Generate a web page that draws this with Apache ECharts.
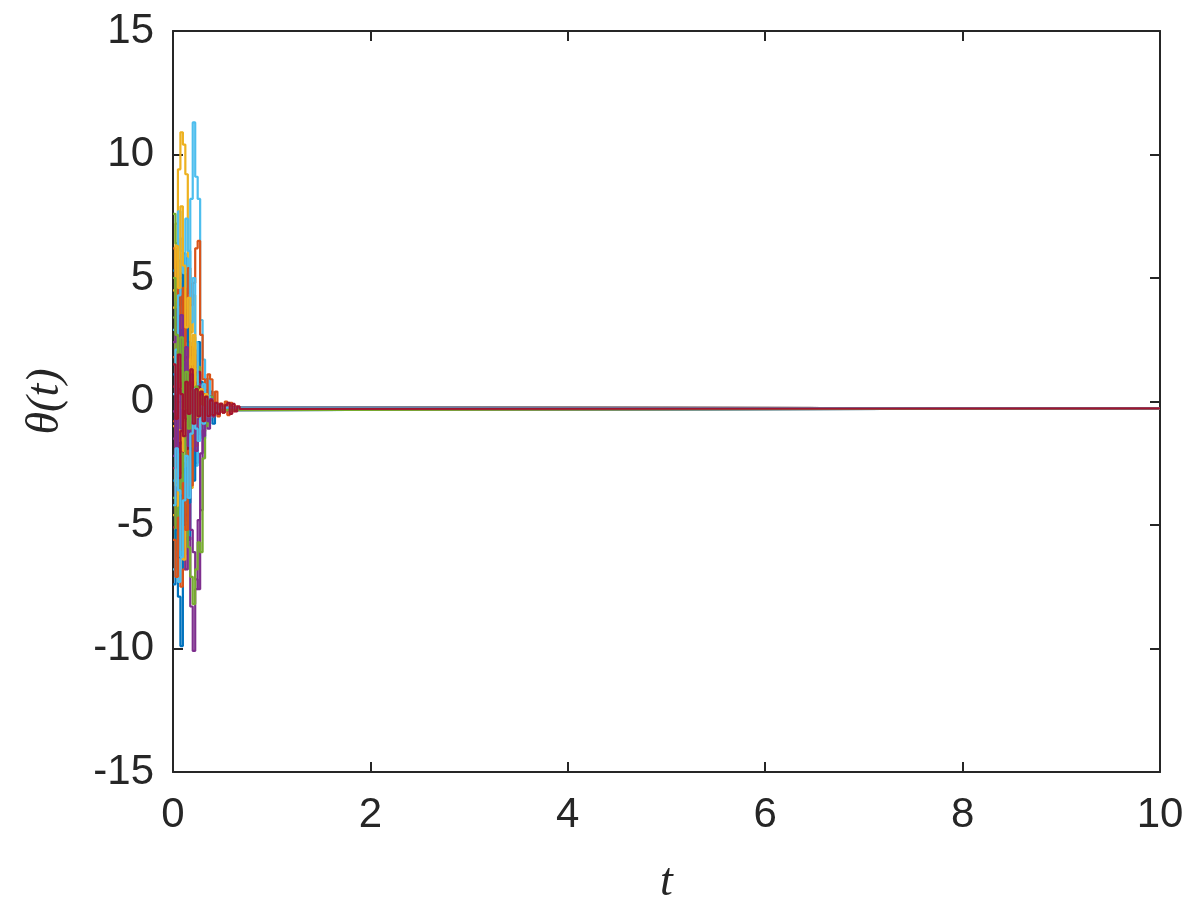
<!DOCTYPE html>
<html>
<head>
<meta charset="utf-8">
<title>theta(t)</title>
<script src="https://cdn.jsdelivr.net/npm/echarts@6/dist/echarts.min.js"></script>
<style>
  html, body { margin: 0; padding: 0; background: #ffffff; }
  #chart { width: 1203px; height: 902px; }
</style>
</head>
<body>
<div id="chart"></div>
<script>
// Sample times of the transient (step 0.025 from 0 to 0.725)
const T = [0, 0.025, 0.05, 0.075, 0.1, 0.125, 0.15, 0.175, 0.2, 0.225, 0.25, 0.275,
  0.3, 0.325, 0.35, 0.375, 0.4, 0.425, 0.45, 0.475, 0.5, 0.525, 0.55, 0.575,
  0.6, 0.625, 0.65, 0.675, 0.7, 0.725];
const T_END = 10;
// Common value every trajectory settles to
const THETA_END = -0.28;

// Trajectories theta_i(t) at the sample times above; from the next sample on each equals THETA_END
const theta01 = [-3.2, -5.4, -7.9, -9.9, -6.2, -4.1, -5.6, -2.3, 1.2, -0.8, 2.4, 0.6, -1.5, 0.9, -0.6, 0.4, -0.9, -0.1, -0.5, -0.2, -0.35];
const theta02 = [1.8, -2.6, -5.1, -7.5, -6.8, -3.4, -0.9, 2.2, 0.4, -1.8, 1.1, -0.7, 0.3, -0.8, 0.2, -0.5, -0.1, -0.4, -0.25];
const theta03 = [4.5, 7.2, 9.4, 10.9, 10.4, 9.2, 5.1, 2.8, 4.3, 1.6, -0.9, 0.8, -1.2, 0.5, -0.7, 0.1, -0.5, -0.2, -0.3];
const theta04 = [-1.5, -3.8, -2.4, -5.9, -4.2, -6.8, -5.5, -8.3, -10.1, -7.6, -4.8, -2.1, -0.6, 0.7, -1.1, 0.3, -0.6, -0.1, -0.4, -0.25];
const theta05 = [7.6, 6.4, 3.9, 5.2, 2.1, 0.4, 3.3, 1.0, -1.9, -0.3, 1.4, -0.5, 0.6, -0.9, 0.1, -0.4, -0.2, -0.32];
const theta06 = [2.9, 5.4, 7.7, 6.1, 3.6, 5.8, 4.4, 8.2, 11.3, 9.1, 8.2, 3.3, 1.7, -0.4, 0.9, -0.6, 0.3, -0.5, -0.1, -0.35];
const theta07 = [0.6, 2.8, 1.3, -1.7, 0.9, 3.6, 2.4, -0.8, 1.9, 0.2, -1.3, 0.5, -0.6, 0.2, -0.5, -0.1, -0.4, -0.3];
const theta08 = [5.3, 3.1, 4.8, 2.2, 6.0, 3.7, 0.9, -1.4, 1.2, -2.5, -0.7, 0.8, -0.4, 0.3, -0.6, -0.1, -0.3];
const theta09 = [-0.8, 1.5, 3.2, 2.0, 4.6, 3.1, 5.4, 3.9, 4.8, 6.2, 6.5, 2.7, 0.9, -0.5, 1.1, 0.9, -0.3, 0.4, -0.6, -0.1, -0.3];
const theta10 = [-4.6, -2.1, -5.3, -3.0, -6.4, -4.9, -1.8, -3.5, -0.6, 1.3, -0.9, 0.4, -0.7, 0.2, -0.5, -0.2, -0.3];
const theta11 = [-2.2, 0.6, -1.9, -3.7, -2.5, -4.6, -3.1, -5.2, -6.1, -7.2, -7.6, -4.4, -1.2, 0.3, -0.8, 0.2, -0.5, -0.25];
const theta12 = [3.4, 1.2, -0.9, -2.8, -4.5, -3.2, -5.9, -7.1, -8.2, -6.8, -5.7, -6.1, -2.3, -1.0, -0.4, 0.2, -0.6, -0.1, -0.4, -0.25];
const theta13 = [-6.8, -4.5, -7.3, -5.0, -2.7, -4.1, -1.5, 0.8, -0.9, -2.6, 0.5, -1.1, 0.4, -0.6, 0.1, -0.4, -0.2, -0.3];
const theta14 = [-5.1, -3.3, -1.2, -2.9, -0.4, 1.8, -1.6, 0.3, 2.1, -0.7, 1.2, -0.9, 0.5, -0.5, 0.1, -0.45, -0.2, -0.3];
const theta15 = [1.1, -1.0, 0.8, 2.9, 1.4, -0.8, -2.9, -1.7, 0.6, -1.2, 0.3, -0.6, 0.2, -0.4, -0.2, -0.3];
const theta16 = [6.2, 4.1, 5.7, 3.0, 4.4, 2.1, 0.2, 1.8, -0.4, 0.9, -1.3, 0.2, -0.7, 0.1, -0.5, -0.15, -0.35, -0.05, -0.5, -0.1, -0.45, 0.0, -0.55, -0.05, -0.4, -0.2, -0.3];
const theta17 = [-1.0, -3.4, -1.6, 0.5, -2.0, -0.6, 1.7, 0.4, 2.6, 1.0, -0.8, 0.6, -0.5, 0.2, -0.4, -0.2, -0.3];
const theta18 = [2.4, 4.0, 1.8, 3.5, 0.7, 2.2, -0.5, 1.1, -1.6, -0.4, 0.7, -0.3, 0.3, -0.5, -0.1, -0.35];
const theta19 = [-3.9, -6.0, -4.3, -2.1, -3.6, -1.4, 0.6, -1.9, -0.2, 1.1, -0.6, 0.4, -0.6, 0.1, -0.4, -0.25];
const theta20 = [0.3, 2.1, 4.3, 6.6, 5.2, 7.4, 6.1, 3.2, 5.0, 2.4, 0.6, -0.9, 0.7, -0.5, 0.2, -0.4, -0.2, -0.3];
const theta21 = [-2.7, -0.6, -3.1, -1.2, 0.9, -0.7, -2.4, -0.9, 0.8, -0.5, 0.6, -0.4, 0.1, -0.5, -0.2, -0.3];
const theta22 = [-7.4, -5.2, -6.3, -3.8, -5.0, -2.7, -4.1, -1.9, -3.2, -0.8, 0.4, -0.7, 0.2, -0.5, -0.1, -0.3];
const theta23 = [-5.6, -7.1, -4.7, -6.0, -3.3, -5.2, -2.0, -3.4, -0.6, -1.8, 0.2, -0.9, 0.3, -0.6, -0.05, -0.4, -0.25];
const theta24 = [3.8, 6.3, 4.6, 7.9, 5.5, 3.0, 4.2, 1.5, 2.7, 0.4, -1.0, 0.5, -0.8, 0.3, -0.6, 0.1, -0.5, -0.1, -0.45, -0.15, -0.4, -0.2, -0.32];
const theta25 = [-0.4, -2.3, 0.5, -1.1, 1.6, -0.2, -1.8, 0.1, -0.9, -2.0, -0.7, 0.3, -1.4, -0.2, -0.8, 0.1, -0.6, -0.1, -0.5, -0.2, -0.35, -0.25];
const theta26 = [5.0, 2.7, 0.8, 2.6, -0.3, 1.2, -1.1, 0.4, -0.8, 0.6, -0.5, 0.2, -0.6, 0.0, -0.45, -0.15, -0.35];
const theta27 = [-4.2, -1.9, -3.6, -6.3, -4.0, -2.2, -3.9, -1.3, 0.5, -1.1, -1.6, -0.2, -0.9, 0.1, -0.6, -0.05, -0.5, -0.15, -0.4, -0.25];
const theta28 = [1.5, -0.7, 1.9, 0.3, -1.4, 0.8, -0.5, 1.3, -0.9, 0.5, -0.6, 0.4, -0.8, 0.2, -0.6, 0.05, -0.55, -0.05, -0.5, -0.1, -0.45, -0.15, -0.05, -0.5, -0.1, -0.4, -0.2, -0.3];

const trajectories = [theta01, theta02, theta03, theta04, theta05, theta06, theta07,
  theta08, theta09, theta10, theta11, theta12, theta13, theta14,
  theta15, theta16, theta17, theta18, theta19, theta20, theta21,
  theta22, theta23, theta24, theta25, theta26, theta27, theta28];

// Axis ticks
const xTicks = [0, 2, 4, 6, 8, 10];
const yTicks = [-15, -10, -5, 0, 5, 10, 15];

// Default line colour order
const palette = ['#0072BD', '#D95319', '#EDB120', '#7E2F8E', '#77AC30', '#4DBEEE', '#A2142F'];

const AXIS_COLOR = '#262626';
const LABEL_FONT = '"Liberation Sans", Arial, Helvetica, sans-serif';
const NAME_FONT = '"Liberation Serif", "DejaVu Serif", "Times New Roman", serif';

function buildSeries() {
  return trajectories.map((vals, i) => {
    const pts = vals.map((v, k) => [T[k], v]);
    // settled from the next sample time to the end of the run
    pts.push([T[vals.length], THETA_END]);
    pts.push([T_END, THETA_END]);
    return {
      type: 'line',
      data: pts,
      step: 'end',
      showSymbol: false,
      symbol: 'none',
      silent: true,
      clip: true,
      xAxisIndex: 0,
      yAxisIndex: 0,
      lineStyle: { color: palette[i % palette.length], width: 2.2 },
      z: 2 + i
    };
  });
}

const chart = echarts.init(document.getElementById('chart'), null, { renderer: 'canvas' });

const axisLineStyle = { show: true, onZero: false, lineStyle: { color: AXIS_COLOR, width: 2 } };
const tickStyle = { show: true, inside: true, length: 10, lineStyle: { color: AXIS_COLOR, width: 2 } };

chart.setOption({
  animation: false,
  backgroundColor: '#ffffff',
  grid: { left: 173, right: 43, top: 31, bottom: 130, containLabel: false, outerBoundsMode: 'none' },
  xAxis: [
    {
      type: 'value',
      position: 'bottom',
      min: xTicks[0], max: xTicks[xTicks.length - 1], interval: 2,
      axisLine: axisLineStyle,
      axisTick: tickStyle,
      splitLine: { show: false },
      axisLabel: { color: AXIS_COLOR, fontSize: 42, fontFamily: LABEL_FONT, margin: 22 },
      name: 't',
      nameLocation: 'middle',
      nameGap: 88,
      nameTextStyle: { color: AXIS_COLOR, fontSize: 46, fontFamily: NAME_FONT, fontStyle: 'italic' }
    },
    {
      type: 'value',
      position: 'top',
      min: xTicks[0], max: xTicks[xTicks.length - 1], interval: 2,
      axisLine: axisLineStyle,
      axisTick: tickStyle,
      splitLine: { show: false },
      axisLabel: { show: false }
    }
  ],
  yAxis: [
    {
      type: 'value',
      position: 'left',
      min: yTicks[0], max: yTicks[yTicks.length - 1], interval: 5,
      axisLine: axisLineStyle,
      axisTick: tickStyle,
      splitLine: { show: false },
      axisLabel: { color: AXIS_COLOR, fontSize: 42, fontFamily: LABEL_FONT, margin: 19 },
      name: 'θ(t)',
      nameLocation: 'middle',
      nameRotate: 90,
      nameGap: 104,
      nameTextStyle: { color: AXIS_COLOR, fontSize: 46, fontFamily: NAME_FONT, fontStyle: 'italic' }
    },
    {
      type: 'value',
      position: 'right',
      min: yTicks[0], max: yTicks[yTicks.length - 1], interval: 5,
      axisLine: axisLineStyle,
      axisTick: tickStyle,
      splitLine: { show: false },
      axisLabel: { show: false }
    }
  ],
  series: buildSeries()
});
</script>
</body>
</html>
